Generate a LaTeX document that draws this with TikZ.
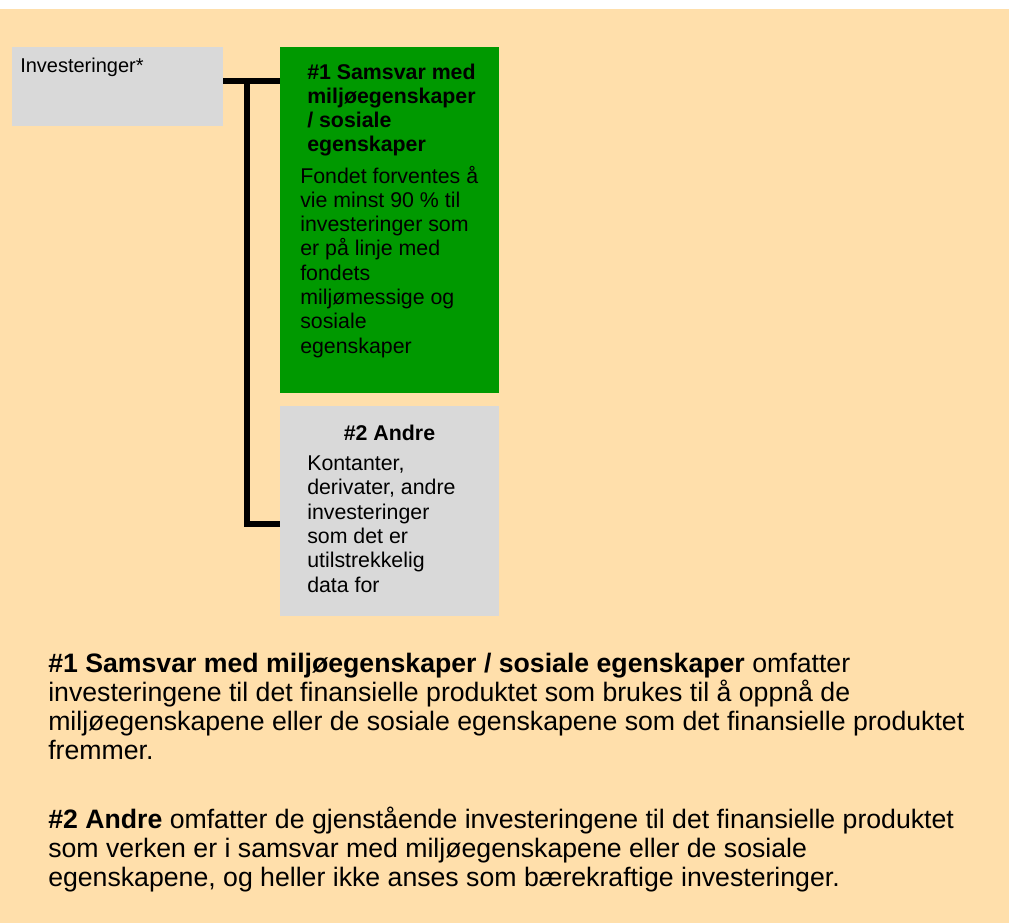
\documentclass[tikz,border=0pt]{standalone}
\usepackage{fontspec}
\setmainfont{Liberation Sans}
\usepackage{xcolor}
\usepackage{tikz}
\usetikzlibrary{positioning,calc,fit}
\definecolor{bgorange}{HTML}{FFDFAB}
\definecolor{boxgreen}{HTML}{009900}
\definecolor{boxgrey}{HTML}{D9D9D9}
\newcommand\txtbox{\fontsize{16}{18.2}\selectfont}
\newcommand\txtinv{\fontsize{15}{18}\selectfont}
\newcommand\txtnote{\fontsize{20}{21.75}\selectfont}
\tikzset{
  greybox/.style={fill=boxgrey,inner sep=0pt},
  greenbox/.style={fill=boxgreen,inner sep=0pt},
  boxlab/.style={anchor=base west,inner sep=0pt,align=left},
  conn/.style={draw=black,line width=4.5pt,line join=miter}
}

\begin{document}
\begin{tikzpicture}[x=0.75pt,y=-0.75pt,font=\txtbox]
  \useasboundingbox (0,0) rectangle (1009,923);
  \fill[white] (0,0) rectangle (1009,923);
  \fill[bgorange] (0,9) rectangle (1009,923);
  \node[greybox,fit={(12,47) (223,126)}] (inv) {};
  \node[greenbox,fit={(280,47) (499,393)}] (samsvar) {};
  \node[greybox,fit={(280,406) (499,616)}] (andre) {};
  % multi-line labels: base = baseline of last line
  \node[boxlab,font=\txtinv] (invlab) at (20,73) {Investeringer*};
  \node[boxlab,font=\txtbox\bfseries] (samsvarhd) at (307,152) {\#1 Samsvar med\\miljøegenskaper\\/ sosiale\\egenskaper};
  \node[boxlab] (samsvartxt) at (300,353) {Fondet forventes å\\vie minst 90 \% til\\investeringer som\\er på linje med\\fondets\\miljømessige og\\sosiale\\egenskaper};
  \node[boxlab,anchor=base,font=\txtbox\bfseries] (andrehd) at (389.5,440) {\#2 Andre};
  \node[boxlab] (andretxt) at (307,592) {Kontanter,\\derivater, andre\\investeringer\\som det er\\utilstrekkelig\\data for};
  \coordinate (split) at (247,81);
  \coordinate (low) at (247,524);
  \draw[conn] (inv.east |- split) -- (split -| samsvar.west);
  \draw[conn] (split) -- (low) -- (low -| andre.west);
  \node[boxlab,font=\txtnote] (note1) at (48,759) {\textbf{\#1 Samsvar med miljøegenskaper / sosiale egenskaper} omfatter\\investeringene til det finansielle produktet som brukes til å oppnå de\\miljøegenskapene eller de sosiale egenskapene som det finansielle produktet\\fremmer.};
  \node[boxlab,font=\txtnote] (note2) at (48,886) {\textbf{\#2 Andre} omfatter de gjenstående investeringene til det finansielle produktet\\som verken er i samsvar med miljøegenskapene eller de sosiale\\egenskapene, og heller ikke anses som bærekraftige investeringer.};
\end{tikzpicture}
\end{document}
